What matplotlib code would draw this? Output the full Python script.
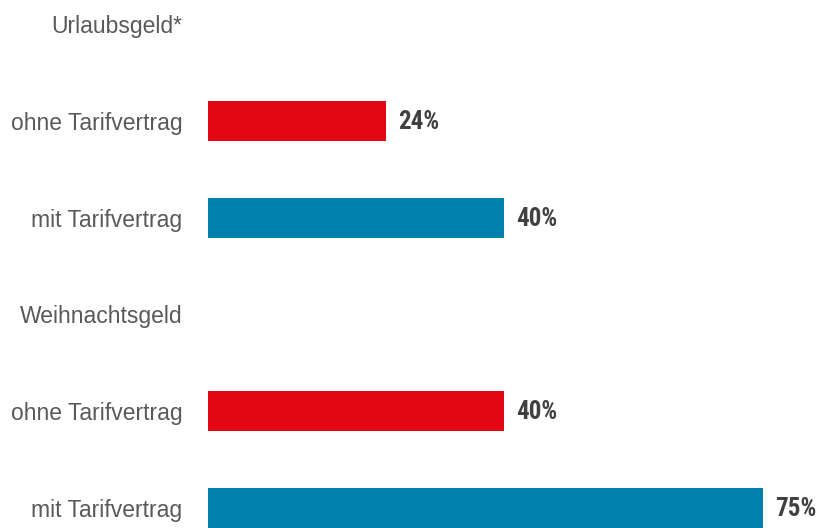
import matplotlib
matplotlib.use("Agg")
import matplotlib.pyplot as plt
from matplotlib import font_manager

categories = ["Urlaubsgeld*", "ohne Tarifvertrag", "mit Tarifvertrag",
              "Weihnachtsgeld", "ohne Tarifvertrag", "mit Tarifvertrag"]
values = [None, 24, 40, None, 40, 75]
series = [None, "ohne", "mit", None, "ohne", "mit"]
colors = {"ohne": "#E30613", "mit": "#0080AD"}

available = {f.name for f in font_manager.fontManager.ttflist}
label_family = [f for f in ["Liberation Sans", "Arial"] if f in available] + ["DejaVu Sans"]
value_family = [f for f in ["Liberation Sans Narrow", "Roboto Condensed", "Roboto"] if f in available] + ["DejaVu Sans"]

fig = plt.figure(figsize=(8.19, 5.28), dpi=100)
ax = fig.add_axes([208 / 819, 0, 1 - 208 / 819, 1])

ypos = list(range(len(categories)))
for y, v, s in zip(ypos, values, series):
    if v is None:
        continue
    ax.barh(y, v, height=0.413, color=colors[s], left=0)
    ax.text(v + 1.7, y + 0.01, f"{v}%", va="center", ha="left", family=value_family,
            fontsize=18, fontweight="bold", color="#404040")

ax.set_xlim(0, 82.6)
ax.set_ylim(5.207, -0.248)
ax.set_yticks(ypos)
ax.set_yticklabels(categories, fontsize=16.5, color="#595959", family=label_family)
ax.tick_params(axis="y", length=0, pad=18.5)
ax.set_xticks([])
for sp in ax.spines.values():
    sp.set_visible(False)

fig.savefig("out.png", dpi=100)
